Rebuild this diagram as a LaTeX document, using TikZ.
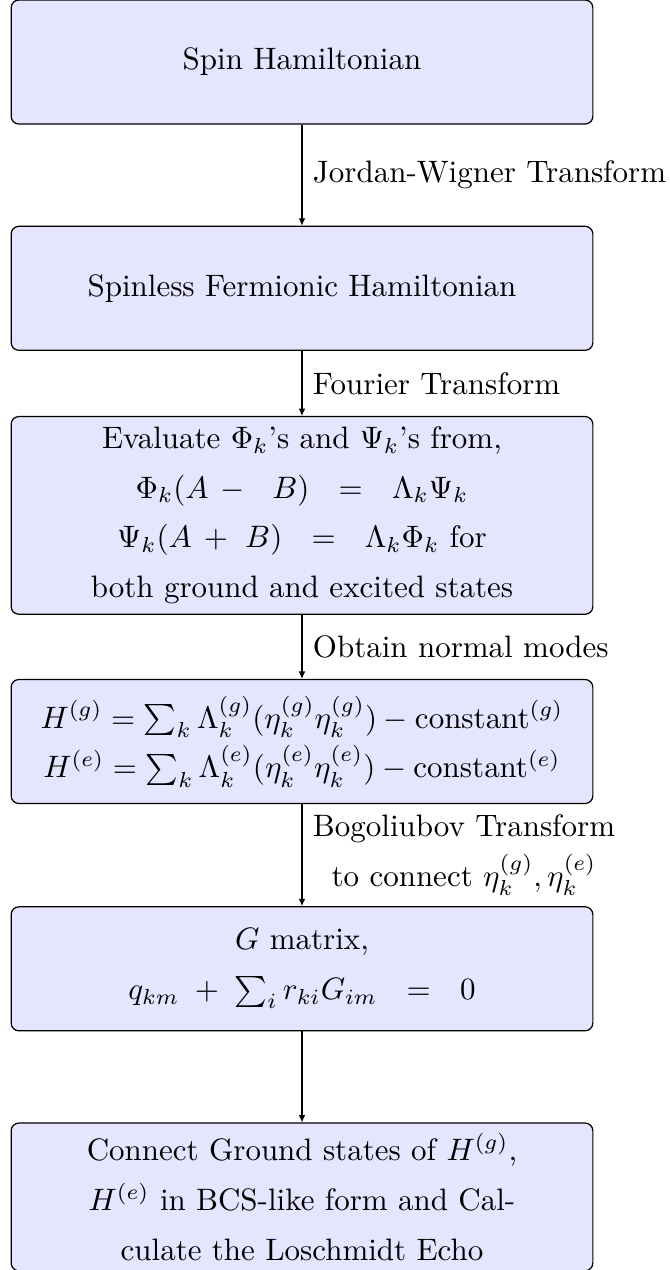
\documentclass[tikz,border=0pt]{standalone}
\usepackage{amsmath}
\usepackage{xcolor}
\usetikzlibrary{arrows.meta, positioning}
\tikzset{
  stage/.style={rectangle, draw=black, fill=blue!10, rounded corners=2.5pt,
    text width=181pt, align=flush center, minimum height=4em, inner sep=3.33pt,
    font=\fontsize{10}{16}\selectfont},
  flow/.style={-{Latex[length=2.4pt, width=2.2pt]}, line width=0.4pt, color=black},
  lbl/.style={right, align=center, font=\fontsize{10}{16}\selectfont}
}

\begin{document}
\begin{tikzpicture}
\useasboundingbox (0,0) rectangle (7.596,-14.399);
\node[stage] (spinH) at (3.424,-0.703) {Spin Hamiltonian};
\node[stage, below=1.146cm of spinH] (fermH) {Spinless Fermionic Hamiltonian};
\node[stage, below=0.737cm of fermH] (evalPP) {Evaluate $\Phi_k$'s and $\Psi_k$'s from,\\
  $\Phi_k(A\,-\ \ B)\ \ =\ \ \Lambda_k\Psi_k$\\
  $\Psi_k(A\,+\ B)\ \ =\ \ \Lambda_k\Phi_k$ for\\
  both ground and excited states};
\node[stage, below=0.726cm of evalPP] (normal) {$H^{(g)} = \sum_k \Lambda_k^{(g)}(\eta_k^{(g)}\eta_k^{(g)}) - \mathrm{constant}^{(g)}$\\
  $H^{(e)} = \sum_k \Lambda_k^{(e)}(\eta_k^{(e)}\eta_k^{(e)}) - \mathrm{constant}^{(e)}$};
\node[stage, below=1.157cm of normal] (gmat) {$G$ matrix,\\
  $q_{km}\;+\;\sum_i r_{ki}G_{im}\ \ =\ \ 0$};
\node[stage, below=1.032cm of gmat] (echo) {Connect Ground states of $H^{(g)}$,\\
  $H^{(e)}$ in BCS-like form and Cal-\\
  culate the Loschmidt Echo};

% connectors
\draw[flow] (spinH) -- node[lbl] {Jordan-Wigner Transform} (fermH);
\draw[flow] (fermH) -- node[lbl] {Fourier Transform} (evalPP);
\draw[flow] (evalPP) -- node[lbl] {Obtain normal modes} (normal);
\draw[flow] (normal) -- node[lbl] {Bogoliubov Transform\\ to connect $\eta_k^{(g)}, \eta_k^{(e)}$} (gmat);
\draw[flow] (gmat) -- (echo);
\end{tikzpicture}
\end{document}
